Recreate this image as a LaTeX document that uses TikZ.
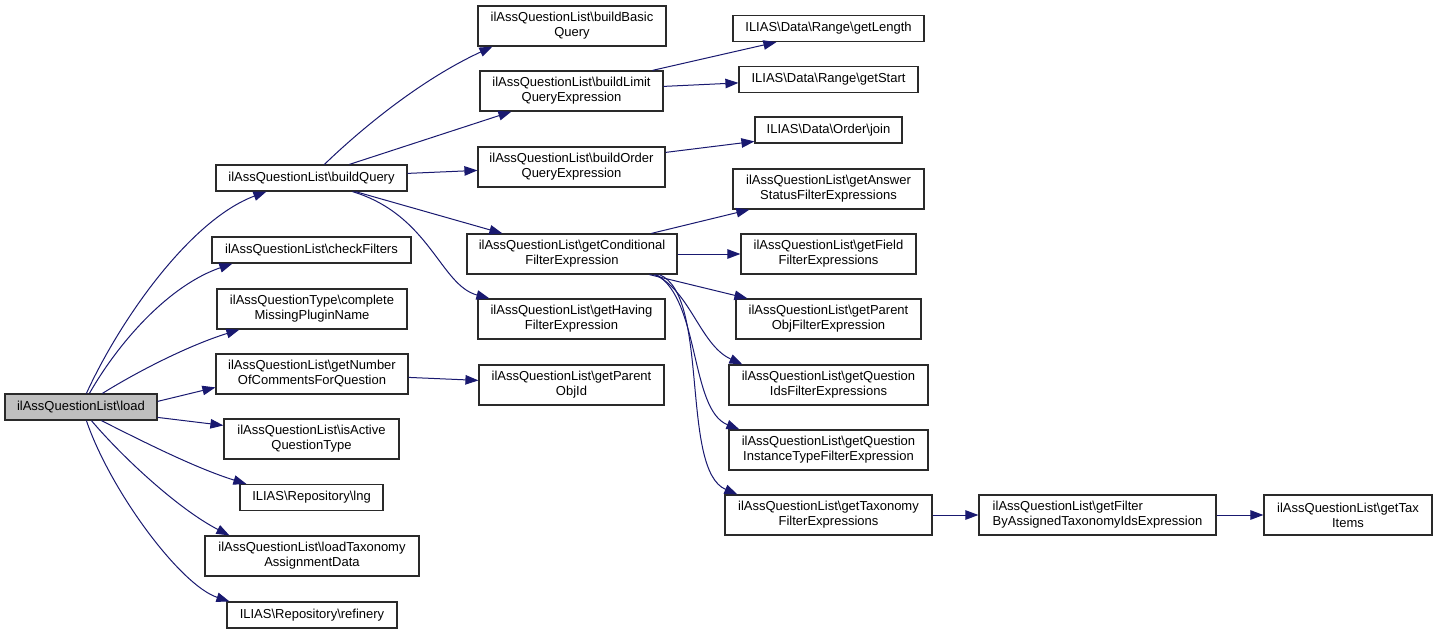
\documentclass[tikz,border=0pt]{standalone}
\usepackage{fontspec}
\setmainfont{Liberation Sans}
\usetikzlibrary{arrows.meta}
\definecolor{navy}{HTML}{191970}
\definecolor{grayfill}{HTML}{BFBFBF}
\definecolor{boxline}{HTML}{2A2A2A}
\begin{document}
\begin{tikzpicture}[x=1pt,y=-1pt,
  box/.style={draw=boxline, line width=1.2pt, inner sep=0pt, align=center,
    font=\fontsize{13}{15}\selectfont, minimum height=40pt, fill=white},
  one/.style={minimum height=26pt},
  e/.style={draw=navy, line width=1pt, -{Triangle[length=13pt,width=9.5pt]}}]
\useasboundingbox (0,0) rectangle (1437,634);
\fill[white] (0,0) rectangle (1437,634);
% column 0
\node[box,one,fill=grayfill,minimum width=152pt] (load) at (81,407) {ilAssQuestionList\textbackslash load};
% column 1
\node[box,one,minimum width=191pt] (bq) at (311.5,178) {ilAssQuestionList\textbackslash buildQuery};
\node[box,one,minimum width=199pt] (cf) at (311.5,250) {ilAssQuestionList\textbackslash checkFilters};
\node[box,minimum width=190pt] (cm) at (312,309) {ilAssQuestionType\textbackslash complete\\MissingPluginName};
\node[box,minimum width=192pt] (gn) at (312,374) {ilAssQuestionList\textbackslash getNumber\\OfCommentsForQuestion};
\node[box,minimum width=175pt] (ia) at (311.5,439) {ilAssQuestionList\textbackslash isActive\\QuestionType};
\node[box,one,minimum width=143pt] (lng) at (311.5,497.5) {ILIAS\textbackslash Repository\textbackslash lng};
\node[box,minimum width=214pt] (lt) at (312,556) {ilAssQuestionList\textbackslash loadTaxonomy\\AssignmentData};
\node[box,one,minimum width=170pt] (ref) at (312,615) {ILIAS\textbackslash Repository\textbackslash refinery};
% column 2
\node[box,minimum width=188pt] (bb) at (572,26) {ilAssQuestionList\textbackslash buildBasic\\Query};
\node[box,minimum width=183pt] (bl) at (571.5,91) {ilAssQuestionList\textbackslash buildLimit\\QueryExpression};
\node[box,minimum width=187pt] (bo) at (571.5,167) {ilAssQuestionList\textbackslash buildOrder\\QueryExpression};
\node[box,minimum width=210pt] (gc) at (572,254) {ilAssQuestionList\textbackslash getConditional\\FilterExpression};
\node[box,minimum width=187pt] (gh) at (571.5,319) {ilAssQuestionList\textbackslash getHaving\\FilterExpression};
\node[box,minimum width=185pt] (gpo) at (571.5,385) {ilAssQuestionList\textbackslash getParent\\ObjId};
% column 3
\node[box,one,minimum width=191pt] (len) at (828.5,28.5) {ILIAS\textbackslash Data\textbackslash Range\textbackslash getLength};
\node[box,one,minimum width=179pt] (st) at (828.5,79.5) {ILIAS\textbackslash Data\textbackslash Range\textbackslash getStart};
\node[box,one,minimum width=147pt] (join) at (828.5,130) {ILIAS\textbackslash Data\textbackslash Order\textbackslash join};
\node[box,minimum width=191pt] (ga) at (828.5,189) {ilAssQuestionList\textbackslash getAnswer\\StatusFilterExpressions};
\node[box,minimum width=175pt] (gf) at (828.5,254) {ilAssQuestionList\textbackslash getField\\FilterExpressions};
\node[box,minimum width=185pt] (gpf) at (828.5,319) {ilAssQuestionList\textbackslash getParent\\ObjFilterExpression};
\node[box,minimum width=199pt] (gqi) at (828.5,385) {ilAssQuestionList\textbackslash getQuestion\\IdsFilterExpressions};
\node[box,minimum width=199pt] (gqt) at (828.5,450) {ilAssQuestionList\textbackslash getQuestion\\InstanceTypeFilterExpression};
\node[box,minimum width=207pt] (gt) at (828.5,515) {ilAssQuestionList\textbackslash getTaxonomy\\FilterExpressions};
% column 4, 5
\node[box,align=left,minimum width=237pt] (gfb) at (1097.5,515) {ilAssQuestionList\textbackslash getFilter\\ByAssignedTaxonomyIdsExpression};
\node[box,minimum width=168pt] (gti) at (1348,515) {ilAssQuestionList\textbackslash getTax\\Items};
% edges from load
\draw[e] ([xshift=82pt]load.north west) .. controls (120,320) and (190,220) .. ([xshift=51pt]bq.south west);
\draw[e] ([xshift=85pt]load.north west) .. controls (120,340) and (170,285) .. ([xshift=21pt]cf.south west);
\draw[e] ([xshift=98pt]load.north west) .. controls (140,370) and (190,345) .. ([xshift=23pt]cm.south west);
\draw[e] ([yshift=-8pt]load.north east) -- ([yshift=-34pt]gn.north west);
\draw[e] ([yshift=-24pt]load.north east) -- ([yshift=-7pt]ia.north west);
\draw[e] ([xshift=97pt]load.south west) .. controls (140,440) and (195,468) .. ([xshift=7pt]lng.north west);
\draw[e] ([xshift=87pt]load.south west) .. controls (125,460) and (180,510) .. ([xshift=25pt]lt.north west);
\draw[e] ([xshift=82pt]load.south west) .. controls (110,490) and (180,585) .. ([xshift=3pt]ref.north west);
% edges from buildQuery
\draw[e] ([xshift=109pt]bq.north west) .. controls (360,130) and (420,80) .. ([xshift=15pt]bb.south west);
\draw[e] ([xshift=134pt]bq.north west) -- ([xshift=32pt]bl.south west);
\draw[e] ([yshift=-9pt]bq.north east) -- ([yshift=-24pt]bo.north west);
\draw[e] ([xshift=140pt]bq.south west) -- ([xshift=36pt]gc.north west);
\draw[e] ([xshift=137pt]bq.south west) .. controls (430,215) and (440,285) .. ([xshift=12pt]gh.north west);
% getNumber
\draw[e] ([yshift=-24pt]gn.north east) -- ([yshift=-16pt]gpo.north west);
% buildLimit, buildOrder
\draw[e] ([xshift=173pt]bl.north west) -- ([xshift=44pt]len.south west);
\draw[e] ([yshift=-16pt]bl.north east) -- ([yshift=-17pt]st.north west);
\draw[e] ([yshift=-6pt]bo.north east) -- ([yshift=-25pt]join.north west);
% getConditional
\draw[e] ([xshift=185pt]gc.north west) -- ([xshift=17pt]ga.south west);
\draw[e] (gc.east) -- (gf.west);
\draw[e] ([xshift=183pt]gc.south west) -- ([xshift=12pt]gpf.north west);
\draw[e] ([xshift=188pt]gc.south west) .. controls (690,290) and (700,345) .. ([xshift=14pt]gqi.north west);
\draw[e] ([xshift=190pt]gc.south west) .. controls (700,300) and (690,410) .. ([xshift=11pt]gqt.north west);
\draw[e] ([xshift=193pt]gc.south west) .. controls (710,295) and (680,470) .. ([xshift=13pt]gt.north west);
% taxonomy chain
\draw[e] (gt.east) -- (gfb.west);
\draw[e] (gfb.east) -- (gti.west);
\end{tikzpicture}
\end{document}
